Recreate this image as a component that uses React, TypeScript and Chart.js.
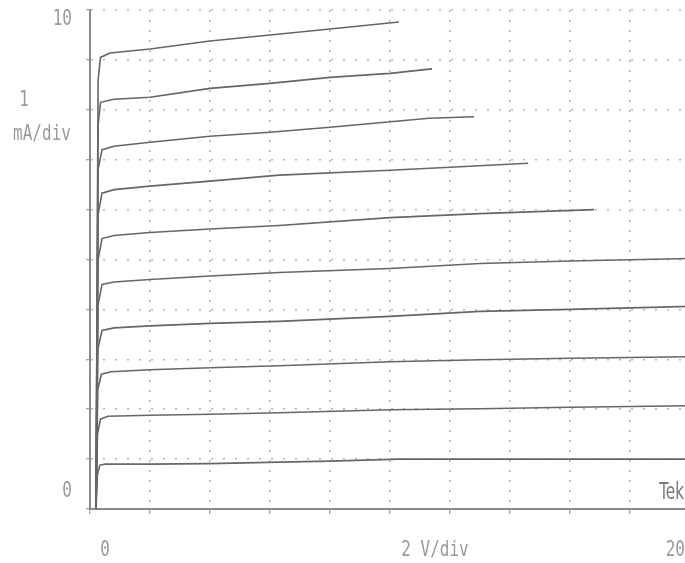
import React, { useEffect, useRef } from "react";
import { Chart, registerables } from "chart.js";

Chart.register(...registerables);

// Collector characteristic curves: [volts, mA]
const curve1: [number, number][] = [[0.2, 0], [0.25, 0.7], [0.33, 0.88], [0.5, 0.9], [2, 0.9], [4, 0.91], [6.3, 0.94], [8, 0.96], [10.3, 1.0], [13, 1.0], [16, 1.0], [20, 1.0]];
const curve2: [number, number][] = [[0.2, 0], [0.25, 1.5], [0.35, 1.8], [0.6, 1.86], [2, 1.88], [4, 1.9], [6.3, 1.93], [10, 1.99], [13, 2.01], [16, 2.04], [20, 2.07]];
const curve3: [number, number][] = [[0.2, 0], [0.26, 2.4], [0.38, 2.7], [0.7, 2.75], [2, 2.79], [4, 2.83], [6.3, 2.87], [10, 2.95], [13, 2.99], [16, 3.02], [20, 3.05]];
const curve4: [number, number][] = [[0.2, 0], [0.26, 3.2], [0.4, 3.58], [0.8, 3.63], [2, 3.67], [4, 3.72], [6.3, 3.76], [10, 3.86], [13, 3.96], [16, 4.0], [20, 4.06]];
const curve5: [number, number][] = [[0.2, 0], [0.27, 4.1], [0.4, 4.5], [0.8, 4.55], [2, 4.6], [4, 4.67], [6.3, 4.74], [10, 4.82], [13, 4.92], [16, 4.97], [20, 5.02]];
const curve6: [number, number][] = [[0.2, 0], [0.27, 5.0], [0.4, 5.42], [0.8, 5.48], [2, 5.54], [4, 5.61], [6.3, 5.68], [10, 5.84], [13, 5.92], [16.8, 6.0]];
const curve7: [number, number][] = [[0.2, 0], [0.27, 5.9], [0.4, 6.33], [0.8, 6.4], [2, 6.47], [4, 6.57], [6.3, 6.69], [10, 6.79], [12, 6.85], [14.6, 6.93]];
const curve8: [number, number][] = [[0.2, 0], [0.27, 6.8], [0.4, 7.2], [0.8, 7.27], [2, 7.35], [4, 7.47], [6, 7.55], [8, 7.65], [11.3, 7.83], [12.8, 7.86]];
const curve9: [number, number][] = [[0.2, 0], [0.27, 7.7], [0.35, 8.15], [0.8, 8.21], [2, 8.25], [4, 8.43], [6, 8.53], [8, 8.65], [10, 8.73], [11.4, 8.82]];
const curve10: [number, number][] = [[0.2, 0], [0.27, 8.6], [0.35, 9.05], [0.67, 9.14], [2, 9.22], [4, 9.38], [6, 9.5], [8, 9.62], [10.3, 9.76]];

const curves = [curve1, curve2, curve3, curve4, curve5, curve6, curve7, curve8, curve9, curve10];

const X_MIN = 0;
const X_MAX = 20;
const X_STEP = 2;
const Y_MIN = 0;
const Y_MAX = 10;
const Y_STEP = 1;

const yTopLabel = "10";
const yUnitValue = "1";
const yUnitLabel = "mA/div";
const yBottomLabel = "0";
const xLeftLabel = "0";
const xUnitLabel = "2 V/div";
const xRightLabel = "20";
const brandLabel = "Tek";

const TEXT = "#9a9a9a";
const CURVE = "#666666";
const GRID = "#b4b4b4";
const AXIS = "#8a8a8a";

const labelsPlugin = {
  id: "tekLabels",
  afterDraw(chart: any) {
    const ctx = chart.ctx as CanvasRenderingContext2D;
    const ys = chart.scales.y;
    const xs = chart.scales.x;
    const put = (t: string, x: number, y: number, align: CanvasTextAlign, font: string, color: string, sy = 1.28) => {
      ctx.save();
      ctx.translate(x, y);
      ctx.scale(1, sy);
      ctx.font = font;
      ctx.fillStyle = color;
      ctx.textAlign = align;
      ctx.textBaseline = "alphabetic";
      ctx.fillText(t, 0, 0);
      ctx.restore();
    };
    const f = "16px 'DejaVu Sans Mono'";
    const left = chart.chartArea.left;
    put(yTopLabel, left - 18, ys.getPixelForValue(10) + 15, "right", f, TEXT);
    put(yUnitValue, 24, ys.getPixelForValue(8.2) + 6, "center", f, TEXT);
    put(yUnitLabel, 42, ys.getPixelForValue(7.6) + 10, "center", f, TEXT);
    put(yBottomLabel, left - 18, ys.getPixelForValue(0) - 12, "right", f, TEXT);
    const by = ys.getPixelForValue(0) + 47;
    put(xLeftLabel, xs.getPixelForValue(0) + 15, by, "center", f, TEXT);
    put(xUnitLabel, xs.getPixelForValue(11.5), by, "center", f, TEXT);
    put(xRightLabel, 685, by, "right", f, TEXT);
    put(brandLabel, 684, ys.getPixelForValue(0) - 10, "right", "17px 'DejaVu Sans Condensed'", "#7a7a7a", 1.3);
  },
};

export default function App() {
  const ref = useRef<HTMLCanvasElement>(null);
  useEffect(() => {
    document.body.style.margin = "0";
    document.body.style.background = "#fff";
    const c = new Chart(ref.current!, {
      type: "line",
      data: {
        datasets: curves.map((cv, i) => ({
          label: "Ib" + (i + 1),
          data: cv.map(([x, y]) => ({ x, y })),
          borderColor: CURVE,
          borderWidth: 1.6,
          pointRadius: 0,
          tension: 0,
          fill: false,
        })),
      },
      options: {
        responsive: false,
        animation: false,
        events: [],
        layout: { padding: { left: 0, top: 10, right: 20, bottom: 0 } },
        plugins: { legend: { display: false }, tooltip: { enabled: false } },
        scales: {
          x: {
            type: "linear",
            min: X_MIN,
            max: X_MAX,
            ticks: { stepSize: X_STEP, display: false },
            afterFit: (s: any) => { s.height = 54; },
            grid: { color: GRID, lineWidth: 1.5, drawTicks: true, tickLength: 5, tickColor: AXIS, tickWidth: 1 },
            border: { display: true, color: AXIS, width: 2, dash: [2, 8] },
          },
          y: {
            type: "linear",
            min: Y_MIN,
            max: Y_MAX,
            ticks: { stepSize: Y_STEP, display: false },
            afterFit: (s: any) => { s.width = 90; },
            grid: { color: GRID, lineWidth: 1.5, drawTicks: true, tickLength: 4, tickColor: AXIS, tickWidth: 1 },
            border: { display: true, color: AXIS, width: 2, dash: [2, 10] },
          },
        },
      },
      plugins: [labelsPlugin],
    });
    return () => c.destroy();
  }, []);
  return (
    <div style={{ position: "fixed", left: 0, top: 0, width: 685, height: 563, overflow: "hidden", background: "#fff" }}>
      <canvas ref={ref} width={710} height={563} style={{ display: "block" }} />
    </div>
  );
}
